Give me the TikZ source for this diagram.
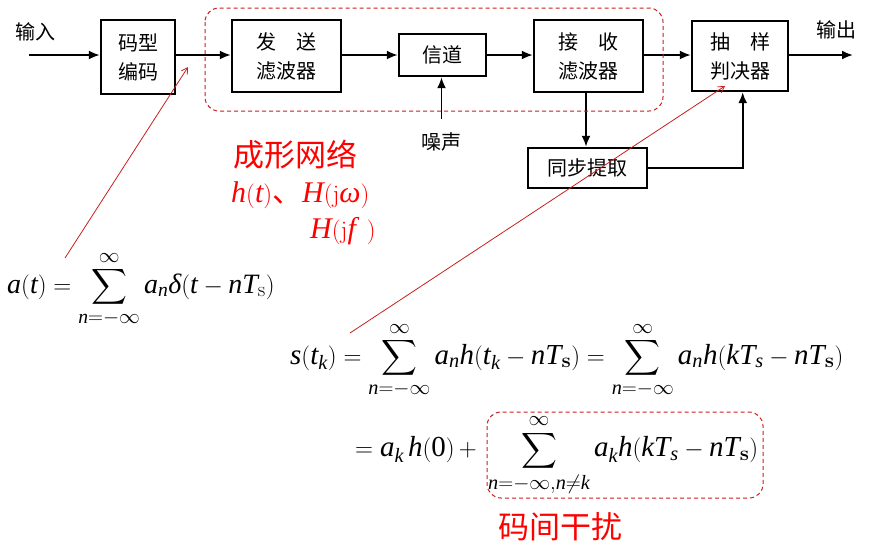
\documentclass[tikz,border=0pt]{standalone}
\usepackage{amsmath}
\usepackage{mathspec}
\setmainfont{Liberation Serif}
\setmathsfont(Digits,Latin,Greek){Liberation Serif}
\newfontfamily\cjk{Noto Sans CJK SC}
\usetikzlibrary{arrows.meta}
\definecolor{dred}{RGB}{200,30,30}
\tikzset{
  blk/.style={draw, line width=2.4pt, align=center, inner sep=0pt, font=\cjk\fontsize{20}{29}\selectfont},
  arr/.style={line width=1.9pt, -{Latex[length=11pt,width=9pt]}},
  lbl/.style={font=\cjk\fontsize{20}{24}\selectfont, inner sep=0pt},
  redarr/.style={dred, line width=0.8pt, -{Straight Barb[length=6pt,width=7pt]}},
  reddash/.style={dred, line width=1pt, dashed, dash pattern=on 4pt off 3pt, rounded corners=14pt},
  eq/.style={inner sep=0pt, font=\fontsize{29}{34}\selectfont},
  redtxt/.style={red, inner sep=0pt}
}
\begin{document}
\begin{tikzpicture}[x=1pt,y=-1pt]
\useasboundingbox (0,0) rectangle (869,550);
% blocks
\node[blk, minimum width=74pt, minimum height=74pt] (enc) at (138,57) {码型\\编码};
\node[blk, minimum width=109pt, minimum height=72pt] (tx) at (286.5,56) {发\quad 送\\滤波器};
\node[blk, minimum width=87pt, minimum height=42pt] (ch) at (442.5,55) {信道};
\node[blk, minimum width=109pt, minimum height=72pt] (rx) at (588.5,56) {接\quad 收\\滤波器};
\node[blk, minimum width=96pt, minimum height=70pt] (dec) at (740,56) {抽\quad 样\\判决器};
\node[blk, minimum width=119pt, minimum height=40pt] (sync) at (587.5,168) {同步提取};
% labels
\node[lbl] (inl) at (35,32) {输入};
\node[lbl] (outl) at (836,30) {输出};
\node[lbl] (noisel) at (441,142) {噪声};
\coordinate (in) at (29,55);
\coordinate (out) at (853,55);
\coordinate (noise) at (441.5,119);
% connectors
\draw[arr] (in) -- (enc.west |- in);
\draw[arr] (enc.east |- in) -- (tx.west |- in);
\draw[arr] (tx.east |- in) -- (ch.west |- in);
\draw[arr] (ch.east |- in) -- (rx.west |- in);
\draw[arr] (rx.east |- in) -- (dec.west |- in);
\draw[arr] (dec.east |- in) -- (out);
\draw[arr] (noise) -- (noise |- ch.south);
\draw[arr] (rx.south -| 586,0) -- (sync.north -| 586,0);
\coordinate (dj) at (742.7,0);
\draw[arr] (sync.east) -| (dj |- dec.south);
% shaping network dashed frame
\draw[reddash] (205,8) rectangle (663,111);
% red texts
\node[redtxt, font=\cjk\fontsize{31}{34}\selectfont] (shape) at (295,155) {成形网络};
\node[redtxt, anchor=west, font=\fontsize{30}{34}\selectfont] (hfun) at (231,195) {$h(t)${\cjk 、}$H(\mathrm{j}\omega)$};
\node[redtxt, anchor=west, font=\fontsize{30}{34}\selectfont] (Hf) at (310,231) {$H(\mathrm{j}f\;\,)$};
% equations
\node[eq, anchor=west, font=\fontsize{28}{34}\selectfont] (at) at (7,289) {$\displaystyle a(t)=\sum_{n=-\infty}^{\infty} a_n\delta(t-nT_{\mathrm{s}})$};
\node[eq, anchor=west] (st) at (290,360) {$\displaystyle s(t_k)=\sum_{n=-\infty}^{\infty} a_n h(t_k-nT_{\mathbf{s}})=\sum_{n=-\infty}^{\infty} a_n h(kT_s-nT_{\mathbf{s}})$};
\node[eq, anchor=west] (row2a) at (355,450) {$\displaystyle = a_k\,h(0)\,+$};
\node[eq, anchor=west] (row2b) at (488,455) {$\displaystyle \sum_{n=-\infty,n\neq k}^{\infty} a_k h(kT_s-nT_{\mathbf{s}})$};
\draw[reddash] (487,412) rectangle (763,498);
\node[redtxt, font=\cjk\fontsize{31}{34}\selectfont] (isi) at (560,527) {码间干扰};
% pointer arrows
\coordinate (p1) at (65,258);
\coordinate (q1) at (188,67);
\draw[redarr] (p1) -- (q1);
\coordinate (p2) at (350,333);
\coordinate (q2) at (725,86);
\draw[redarr] (p2) -- (q2);
\end{tikzpicture}
\end{document}
